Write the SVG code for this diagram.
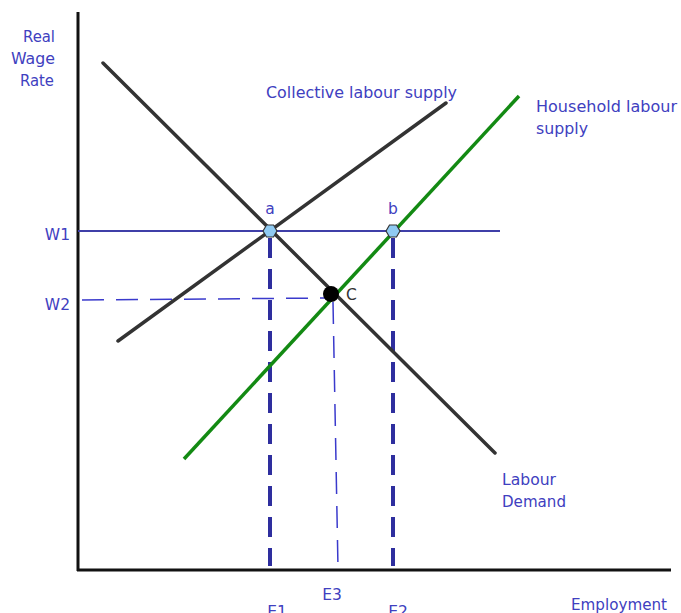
<svg xmlns="http://www.w3.org/2000/svg" width="681" height="613" viewBox="0 0 681 613">
<style>
text{font-family:"DejaVu Sans",Verdana,sans-serif;font-size:15.5px;fill:#4040c0}
.curve{stroke:#333;stroke-width:3.5;fill:none;stroke-linecap:round}
.green{stroke:#138a13;stroke-width:3.5;fill:none}
.axis{stroke:#111;stroke-width:3;fill:none}
.thickdash{stroke:#2e2e9e;stroke-width:4;stroke-dasharray:20 11;fill:none}
.thindash{stroke:#3a3acc;stroke-width:1.5;stroke-dasharray:22 12;fill:none}
.pt{fill:#8fcaf2;stroke:#333;stroke-width:1.2}
</style>
<rect width="681" height="613" fill="#fff"/>
<g id="connectors">
<line class="axis" x1="78" y1="12" x2="78" y2="571"/>
<line class="axis" x1="77" y1="570" x2="671" y2="570"/>
<line class="thickdash" x1="270" y1="238" x2="270" y2="566"/>
<line class="thickdash" x1="393" y1="238" x2="393" y2="566"/>
<line class="thindash" x1="333" y1="302" x2="338" y2="568"/>
<line class="thindash" x1="82" y1="300" x2="325" y2="298" stroke-dasharray="18 18 36 10 40 8 40 6 90 0"/>
<line class="curve" x1="103" y1="63" x2="495" y2="453"/>
<line class="curve" x1="118" y1="341" x2="446" y2="103"/>
<line class="green" x1="184" y1="459" x2="519" y2="96"/>
<line x1="78" y1="231" x2="500" y2="231" stroke="#3f3fa8" stroke-width="2.2"/>
</g>
<g id="point-a"><polygon class="pt" points="263,231 266.5,225 273.5,225 277,231 273.5,237 266.5,237"/><text x="270" y="214" text-anchor="middle" font-size="15">a</text></g>
<g id="point-b"><polygon class="pt" points="386,231 389.5,225 396.5,225 400,231 396.5,237 389.5,237"/><text x="393" y="214" text-anchor="middle" font-size="15">b</text></g>
<g id="point-c"><circle cx="331" cy="294" r="8" fill="#000"/><text x="346" y="300" font-size="15" style="fill:#333">C</text></g>
<g id="labels">
<text x="55" y="42" text-anchor="end" textLength="32" lengthAdjust="spacingAndGlyphs">Real</text>
<text x="55" y="64" text-anchor="end" textLength="44" lengthAdjust="spacingAndGlyphs">Wage</text>
<text x="54" y="86" text-anchor="end" textLength="34" lengthAdjust="spacingAndGlyphs">Rate</text>
<text x="70" y="240" text-anchor="end">W1</text>
<text x="70" y="310" text-anchor="end">W2</text>
<text x="266" y="98" textLength="191" lengthAdjust="spacingAndGlyphs">Collective labour supply</text>
<text x="536" y="112" textLength="141" lengthAdjust="spacingAndGlyphs">Household labour</text>
<text x="536" y="134" textLength="52" lengthAdjust="spacingAndGlyphs">supply</text>
<text x="502" y="485" textLength="54" lengthAdjust="spacingAndGlyphs">Labour</text>
<text x="502" y="507" textLength="64" lengthAdjust="spacingAndGlyphs">Demand</text>
<text x="571" y="610" textLength="96" lengthAdjust="spacingAndGlyphs">Employment</text>
<text x="332" y="600" text-anchor="middle">E3</text>
<text x="277" y="617" text-anchor="middle">E1</text>
<text x="398" y="617" text-anchor="middle">E2</text>
</g>
</svg>
